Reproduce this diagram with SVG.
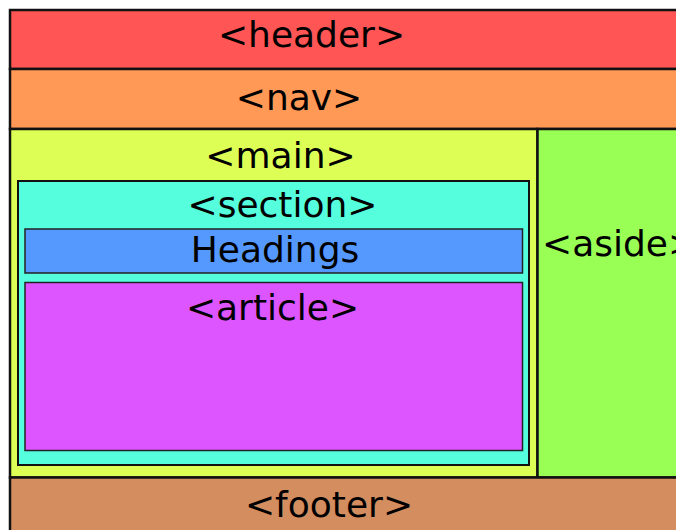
<svg xmlns="http://www.w3.org/2000/svg" width="676" height="530" viewBox="0 0 676 530">
<style>
.b{stroke:#111;stroke-width:2.5}
.s{stroke:#111;stroke-width:2}
.t{stroke:#222;stroke-width:1.5}
text{font-family:"DejaVu Sans",Verdana,sans-serif;font-size:36px;fill:#000;text-anchor:middle}
</style>
<rect width="676" height="530" fill="#fff"/>
<g id="header"><rect class="b" x="10" y="10" width="700" height="59" fill="#ff5555"/><text x="311.5" y="47">&lt;header&gt;</text></g>
<g id="nav"><rect class="b" x="10" y="69" width="700" height="60" fill="#ff9955"/><text x="299" y="110">&lt;nav&gt;</text></g>
<g id="main"><rect class="b" x="10" y="129" width="527.5" height="348.5" fill="#ddff55"/><text x="280.5" y="168">&lt;main&gt;</text></g>
<g id="aside"><rect class="b" x="537.5" y="129" width="200" height="348.5" fill="#99ff55"/><text x="542" y="256" style="text-anchor:start">&lt;aside&gt;</text></g>
<g id="footer"><rect class="b" x="10" y="477.5" width="700" height="100" fill="#d38d5f"/><text x="329" y="517">&lt;footer&gt;</text></g>
<g id="section"><rect class="s" x="18" y="181" width="511" height="284" fill="#55ffdd"/><text x="282.5" y="217">&lt;section&gt;</text></g>
<g id="headings"><rect class="t" x="25" y="229" width="497.5" height="44" fill="#5599ff"/><text x="275" y="262">Headings</text></g>
<g id="article"><rect class="t" x="25" y="282.5" width="497.5" height="168" fill="#dd55ff"/><text x="272.5" y="320">&lt;article&gt;</text></g>
<g id="connectors"/>
</svg>
